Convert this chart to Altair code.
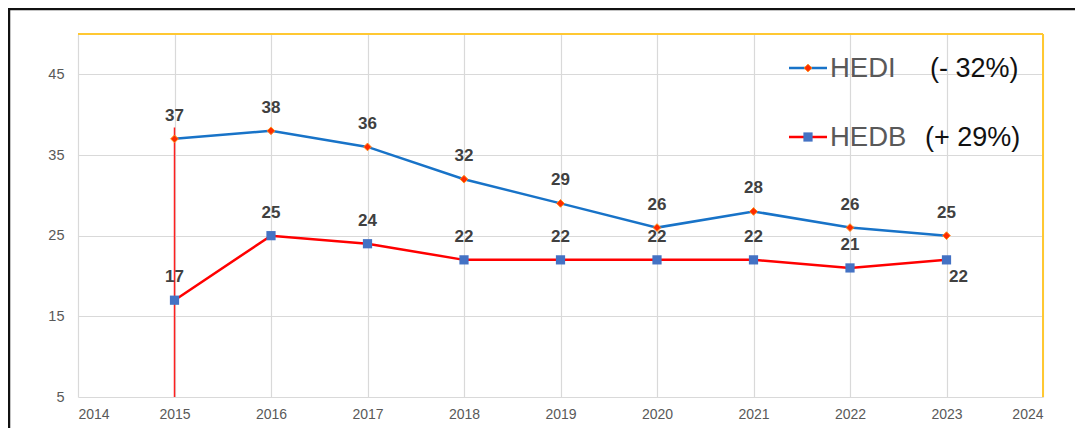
import altair as alt
import pandas as pd

years = [2015, 2016, 2017, 2018, 2019, 2020, 2021, 2022, 2023]
hedi = [37, 38, 36, 32, 29, 26, 28, 26, 25]
hedb = [17, 25, 24, 22, 22, 22, 22, 21, 22]
x_ticks = list(range(2014, 2025))
y_ticks = [5, 15, 25, 35, 45]
drop_line = {"year": 2015, "low": 5, "high": 38.4}

df_i = pd.DataFrame({"year": years, "value": hedi})
df_b = pd.DataFrame({"year": years, "value": hedb})
df_b_main = df_b.iloc[:-1]
df_b_last = df_b.iloc[-1:]

FONT = "Liberation Sans"
xs = alt.Scale(domain=[2014, 2024], nice=False, zero=False)
ys = alt.Scale(domain=[5, 50], nice=False, zero=False)

X = alt.X("year:Q", scale=xs, axis=alt.Axis(values=x_ticks, format="d", title=None,
          grid=True, gridColor="#d9d9d9", gridWidth=1.2, domain=False, ticks=False,
          labelFont=FONT, labelFontSize=14, labelColor="#595959", labelPadding=10))
Y = alt.Y("value:Q", scale=ys, axis=alt.Axis(values=y_ticks, title=None,
          grid=True, gridColor="#d9d9d9", gridWidth=1.2, domain=False, ticks=False,
          labelFont=FONT, labelFontSize=14.5, labelColor="#595959", labelPadding=14))

base_i = alt.Chart(df_i)
base_b = alt.Chart(df_b)

drop = alt.Chart(pd.DataFrame([drop_line])).mark_rule(color="#FF2020", strokeWidth=1.5).encode(
    x=alt.X("year:Q", scale=xs), y=alt.Y("low:Q", scale=ys), y2="high:Q")

line_i = base_i.mark_line(color="#1873C8", strokeWidth=2.5).encode(x=X, y=Y)
pts_i = base_i.mark_point(shape="diamond", filled=True, color="#FF2A00", size=60, opacity=1,
                          stroke="#FF8C1A", strokeWidth=1).encode(x=alt.X("year:Q", scale=xs), y=alt.Y("value:Q", scale=ys))
line_b = base_b.mark_line(color="#FF0000", strokeWidth=2.5).encode(x=alt.X("year:Q", scale=xs), y=alt.Y("value:Q", scale=ys))
pts_b = base_b.mark_square(color="#4472C4", size=85, opacity=1).encode(x=alt.X("year:Q", scale=xs), y=alt.Y("value:Q", scale=ys))

lab_style = dict(font=FONT, fontSize=17, fontWeight="bold", color="#404040", align="center", baseline="middle")
lab_i = base_i.mark_text(dy=-23, **lab_style).encode(x=alt.X("year:Q", scale=xs), y=alt.Y("value:Q", scale=ys), text="value:Q")
lab_b = alt.Chart(df_b_main).mark_text(dy=-23, **lab_style).encode(x=alt.X("year:Q", scale=xs), y=alt.Y("value:Q", scale=ys), text="value:Q")
lab_b2 = alt.Chart(df_b_last).mark_text(dx=12, dy=17, **lab_style).encode(x=alt.X("year:Q", scale=xs), y=alt.Y("value:Q", scale=ys), text="value:Q")

# plot frame: yellow top and right edges
top_edge = alt.Chart(pd.DataFrame({"v": [50]})).mark_rule(color="#FFC832", strokeWidth=2).encode(
    y=alt.Y("v:Q", scale=ys), x=alt.value(0), x2=alt.value(965))
right_edge = alt.Chart(pd.DataFrame({"v": [2024]})).mark_rule(color="#FFC832", strokeWidth=2).encode(
    x=alt.X("v:Q", scale=xs), y=alt.value(0), y2=alt.value(363))

# outer black frame (left and top)
frame_top = alt.Chart(pd.DataFrame({"a": [0]})).mark_rule(color="#111111", strokeWidth=2.5).encode(
    x=alt.value(-70), x2=alt.value(1000), y=alt.value(-25))
frame_left = alt.Chart(pd.DataFrame({"a": [0]})).mark_rule(color="#111111", strokeWidth=2.5).encode(
    x=alt.value(-69), y=alt.value(-26), y2=alt.value(410))

# legend
leg_names = ["HEDI", "HEDB"]
leg_pcts = ["(- 32%)", "(+ 29%)"]
leg_rows = [34, 103]

leg_parts = []
for i, (nm, pc) in enumerate(zip(leg_names, leg_pcts)):
    yy = leg_rows[i]
    d = pd.DataFrame({"name": [nm], "pct": [pc]})
    lc = "#1873C8" if i == 0 else "#FF0000"
    leg_parts.append(alt.Chart(d).mark_rule(color=lc, strokeWidth=2.5).encode(
        x=alt.value(711), x2=alt.value(749), y=alt.value(yy)))
    if i == 0:
        leg_parts.append(alt.Chart(d).mark_point(shape="diamond", filled=True, color="#FF2A00", size=60, opacity=1,
                                                 stroke="#FF8C1A", strokeWidth=1).encode(x=alt.value(730), y=alt.value(yy)))
    else:
        leg_parts.append(alt.Chart(d).mark_square(color="#4472C4", size=85, opacity=1).encode(
            x=alt.value(730), y=alt.value(yy)))
    leg_parts.append(alt.Chart(d).mark_text(font=FONT, fontSize=27.5, color="#595959", align="left", baseline="middle").encode(
        x=alt.value(752), y=alt.value(yy + 1), text="name:N"))
    leg_parts.append(alt.Chart(d).mark_text(font=FONT, fontSize=27, color="#111111", align="left", baseline="middle").encode(
        x=alt.value(852 if i == 0 else 847), y=alt.value(yy + 1), text="pct:N"))

chart = alt.layer(
    line_i, drop, top_edge, right_edge, line_b, pts_i, pts_b, lab_i, lab_b, lab_b2,
    frame_top, frame_left, *leg_parts
).properties(
    width=965, height=363,
    autosize=alt.AutoSizeParams(type="none"),
    padding={"left": 70, "top": 26, "right": 32, "bottom": 31},
    background="white",
).configure_view(stroke=None)

chart.save("out.html", embed_options={"renderer": "svg", "actions": False})
